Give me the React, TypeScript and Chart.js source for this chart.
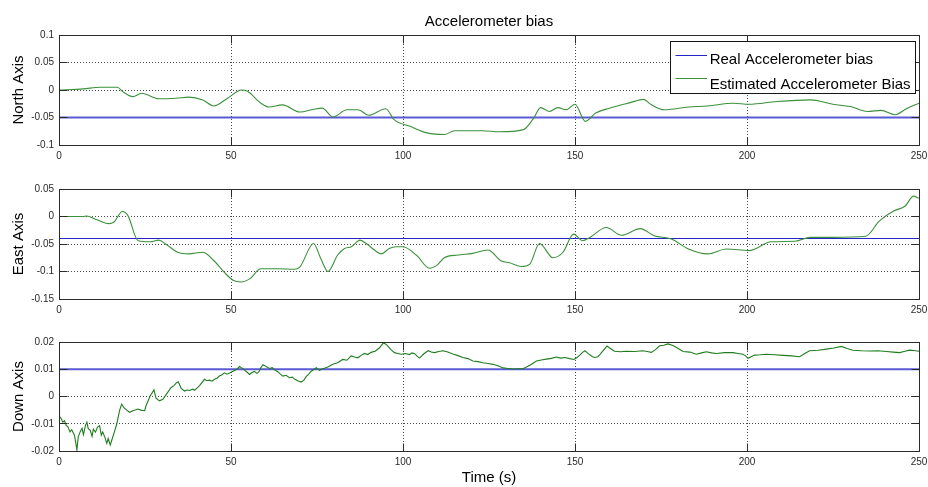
import { useEffect, useRef } from "react";
import { Chart, registerables } from "chart.js";

Chart.register(...registerables);

// ---- data ----------------------------------------------------------------
const timeTicks = [0, 50, 100, 150, 200, 250];
const northTicks = [-0.1, -0.05, 0, 0.05, 0.1];
const eastTicks = [-0.15, -0.1, -0.05, 0, 0.05];
const downTicks = [-0.02, -0.01, 0, 0.01, 0.02];

const realLabel = "Real Accelerometer bias";
const estimateLabel = "Estimated Accelerometer Bias";

const realNorth = -0.05;
const realEast = -0.04;
const realDown = 0.01;

const northTime = [
  0, 7, 12, 17, 18.5, 21.5, 24, 29, 34, 37.7,
  41.8, 45, 49, 53, 54.7, 58.7, 61, 65, 70, 74,
  76.5, 79.7, 83.7, 87, 90, 95, 97.4, 102, 107, 112,
  115, 123, 128, 135, 138, 140, 142.6, 145, 147.4, 150,
  153, 156, 160, 166, 170, 172, 176, 183, 188.6, 196,
  200.6, 208.7, 218.4, 225, 230, 235, 239, 243, 246.6, 250,
];
const northBias = [
  0, 0.002, 0.005, 0.005, -0.003, -0.012, -0.006, -0.016, -0.015, -0.013,
  -0.018, -0.029, -0.015, 0, -0.002, -0.024, -0.031, -0.027, -0.04, -0.035,
  -0.033, -0.049, -0.036, -0.036, -0.046, -0.034, -0.054, -0.066, -0.078, -0.081,
  -0.074, -0.074, -0.076, -0.072, -0.051, -0.032, -0.039, -0.032, -0.036, -0.026,
  -0.057, -0.042, -0.033, -0.023, -0.017, -0.026, -0.036, -0.031, -0.029, -0.024,
  -0.026, -0.021, -0.018, -0.026, -0.03, -0.039, -0.037, -0.045, -0.033, -0.024,
];

const eastTime = [
  0, 7, 8, 11, 14.4, 16, 18.4, 20, 23, 26.5,
  29, 31, 34.5, 37.7, 41.8, 45, 48, 50.6, 53, 55.5,
  58.7, 63.5, 68.4, 70, 74, 76, 78.2, 81, 83, 85,
  87.5, 89.5, 91.5, 93.7, 96, 98, 100, 104, 107.7, 110,
  112, 116, 120.3, 124.7, 128.6, 131, 134.4, 136.8, 139.7, 143.6,
  146.5, 149.6, 152.2, 154.3, 159.1, 163.5, 169, 173, 178, 183,
  188.6, 194, 200.6, 207, 214, 218.4, 225, 234.5, 238.5, 242.6,
  246, 248.4, 250,
];
const eastBias = [
  0, 0, 0.001, -0.006, -0.013, -0.01, 0.009, 0.002, -0.044, -0.046,
  -0.043, -0.05, -0.065, -0.068, -0.065, -0.08, -0.101, -0.116, -0.119, -0.113,
  -0.095, -0.095, -0.096, -0.092, -0.049, -0.075, -0.1, -0.07, -0.058, -0.055,
  -0.043, -0.05, -0.06, -0.068, -0.058, -0.055, -0.055, -0.071, -0.094, -0.088,
  -0.075, -0.07, -0.067, -0.061, -0.081, -0.084, -0.091, -0.087, -0.049, -0.075,
  -0.065, -0.032, -0.044, -0.038, -0.02, -0.034, -0.022, -0.035, -0.041, -0.059,
  -0.068, -0.059, -0.062, -0.046, -0.045, -0.038, -0.038, -0.036, -0.008, 0.01,
  0.019, 0.037, 0.033,
];

const downTime = [
  0, 0.15, 0.6, 1.1, 1.6, 2.1, 2.6, 3.2, 3.7, 4.5,
  5.2, 5.6, 6.2, 6.7, 7.1, 7.7, 8.1, 8.5, 9.1, 9.6,
  10.0, 10.6, 11.2, 11.8, 12.3, 12.7, 13.3, 13.9, 14.3, 14.9,
  15.5, 16.1, 16.8, 17.6, 18.2, 19.0, 19.7, 20.5, 21.5, 22.3,
  22.9, 23.8, 24.9, 25.3, 26.5, 27.6, 28.2, 29.2, 30.2, 31.2,
  32.6, 33.4, 34.1, 34.7, 35.5, 36.5, 37.2, 38.0, 38.8, 39.4,
  40.1, 40.8, 41.6, 42.3, 43.0, 43.7, 44.5, 45.2, 46.0, 46.6,
  47.3, 48.1, 48.8, 49.6, 50.3, 51.0, 51.8, 52.5, 53.2, 54.0,
  54.7, 55.4, 56.1, 56.8, 57.5, 58.1, 58.7, 59.3, 60.2, 61.2,
  62.0, 62.7, 63.6, 64.3, 65.1, 66.0, 67.0, 67.8, 68.5, 69.4,
  70.4, 71.2, 71.9, 72.6, 73.3, 74.0, 74.8, 75.7, 76.5, 77.2,
  78.3, 79.6, 81.0, 82.5, 83.7, 84.9, 85.9, 86.9, 87.8, 88.8,
  89.8, 90.7, 91.9, 93.1, 94.3, 95.0, 95.6, 96.5, 97.5, 98.5,
  99.5, 100.7, 101.9, 102.6, 103.4, 104.1, 104.8, 106.0, 107.3, 108.2,
  109.2, 110.4, 111.6, 113.0, 114.5, 116.0, 117.4, 118.9, 120.3, 121.8,
  123.2, 124.7, 126.2, 127.6, 129.1, 130.5, 132.0, 133.4, 134.9, 135.9,
  136.9, 137.8, 138.8, 140.2, 141.7, 143.1, 144.6, 145.8, 147.1, 148.4,
  149.7, 150.5, 151.4, 152.2, 152.9, 153.6, 154.4, 155.1, 155.8, 156.6,
  157.3, 158.3, 159.3, 160.4, 161.5, 163.2, 164.9, 167.3, 169.7, 171.0,
  172.2, 173.4, 174.6, 175.8, 177.0, 178.5, 180.0, 181.4, 183.4, 185.3,
  186.8, 188.2, 189.7, 191.1, 193.5, 195.9, 197.4, 198.8, 199.6, 200.3,
  201.2, 202.2, 203.9, 205.6, 208.0, 210.5, 212.9, 215.3, 216.8, 218.2,
  220.7, 223.1, 225.3, 227.4, 229.1, 230.8, 233.3, 235.7, 238.1, 240.5,
  242.5, 244.4, 245.9, 247.3, 248.5, 250,
];
const downBias = [
  0.002, -0.0073, -0.008, -0.0094, -0.0089, -0.0106, -0.0111, -0.013, -0.0122, -0.0142,
  -0.0196, -0.0148, -0.0128, -0.0117, -0.014, -0.0106, -0.0094, -0.0118, -0.0124, -0.0146,
  -0.012, -0.0131, -0.0112, -0.0107, -0.0142, -0.013, -0.0148, -0.0172, -0.0154, -0.0178,
  -0.0154, -0.013, -0.01, -0.0052, -0.0028, -0.0043, -0.005, -0.0058, -0.0052, -0.0049,
  -0.0046, -0.005, -0.0052, -0.0034, 0.0002, 0.0024, -0.0006, -0.0016, -0.001, 0.0008,
  0.0033, 0.004, 0.005, 0.0054, 0.003, 0.002, 0.0024, 0.0022, 0.0027, 0.0023,
  0.0031, 0.0039, 0.0052, 0.0063, 0.0058, 0.006, 0.0056, 0.0063, 0.0068, 0.0075,
  0.0079, 0.0087, 0.0082, 0.0086, 0.0091, 0.0095, 0.0101, 0.011, 0.0104, 0.0096,
  0.0089, 0.0081, 0.0088, 0.0092, 0.0085, 0.009, 0.0106, 0.0117, 0.011, 0.0103,
  0.0106, 0.0098, 0.0091, 0.0083, 0.0075, 0.0078, 0.0069, 0.0071, 0.0064, 0.0058,
  0.0053, 0.006, 0.0074, 0.0082, 0.0093, 0.0098, 0.0106, 0.0096, 0.0101, 0.0104,
  0.0109, 0.0118, 0.0124, 0.0136, 0.0133, 0.0149, 0.0145, 0.0142, 0.0151, 0.0158,
  0.0154, 0.0162, 0.0166, 0.0178, 0.0197, 0.0192, 0.0185, 0.0172, 0.0161, 0.0158,
  0.0155, 0.0158, 0.0154, 0.016, 0.0157, 0.0148, 0.0141, 0.0156, 0.0168, 0.0163,
  0.0161, 0.0165, 0.0168, 0.0163, 0.0156, 0.015, 0.0143, 0.0139, 0.013, 0.0128,
  0.0124, 0.0121, 0.0118, 0.0113, 0.0105, 0.0103, 0.0101, 0.0102, 0.0102, 0.0108,
  0.0115, 0.0122, 0.013, 0.0134, 0.0137, 0.014, 0.0145, 0.0141, 0.0143, 0.0139,
  0.0136, 0.0142, 0.0152, 0.0162, 0.0168, 0.016, 0.0152, 0.0146, 0.0143, 0.0146,
  0.0155, 0.017, 0.0185, 0.0175, 0.0166, 0.0164, 0.0166, 0.0165, 0.0168, 0.0165,
  0.0162, 0.0172, 0.0186, 0.0188, 0.0193, 0.0187, 0.0176, 0.0165, 0.0163, 0.0155,
  0.016, 0.0164, 0.016, 0.0158, 0.0161, 0.0161, 0.0158, 0.0155, 0.0149, 0.014,
  0.0146, 0.0152, 0.0153, 0.0155, 0.0153, 0.0151, 0.0149, 0.0146, 0.0158, 0.0168,
  0.017, 0.0174, 0.0178, 0.0184, 0.0176, 0.017, 0.0168, 0.0167, 0.0168, 0.0165,
  0.0163, 0.0161, 0.0166, 0.017, 0.0169, 0.0166,
];

// ---- styling -------------------------------------------------------------
const FONT = '"Liberation Sans", Arial, Helvetica, sans-serif';
const AXIS_COLOR = "#2b2b2b";
const GRID_COLOR = "#4a4a4a";
const TICK_LEN = 8;

type PanelSpec = {
  axisLabel: string;
  ticks: number[];
  real: number;
  time: number[];
  estimate: number[];
  smooth: boolean;
  realColor: string;
  realWidth: number;
  estColor: string;
  top: number;
  height: number;
  padTop: number;
  axisHeight: number;
  title?: string;
  xTitle?: string;
  legend?: boolean;
};

const panels: PanelSpec[] = [
  {
    axisLabel: "North Axis",
    ticks: northTicks,
    real: realNorth,
    time: northTime,
    estimate: northBias,
    smooth: true,
    realColor: "#5a5ad6",
    realWidth: 2,
    estColor: "#3a913a",
    top: 0,
    height: 170,
    padTop: 0,
    axisHeight: 25,
    title: "Accelerometer bias",
    legend: true,
  },
  {
    axisLabel: "East Axis",
    ticks: eastTicks,
    real: realEast,
    time: eastTime,
    estimate: eastBias,
    smooth: true,
    realColor: "#2424c8",
    realWidth: 1.2,
    estColor: "#3a913a",
    top: 170,
    height: 154,
    padTop: 19,
    axisHeight: 25,
  },
  {
    axisLabel: "Down Axis",
    ticks: downTicks,
    real: realDown,
    time: downTime,
    estimate: downBias,
    smooth: false,
    realColor: "#5a5ad6",
    realWidth: 2,
    estColor: "#1f7d1f",
    top: 324,
    height: 163,
    padTop: 18,
    axisHeight: 36,
    xTitle: "Time (s)",
  },
];

const alignPx = (p: number) => Math.round(p - 0.5) + 0.5;
const fmtTick = (v: number | string) => String(Number(Number(v).toFixed(4)));

// Axes box with inward tick marks on all four sides
const frameBox = {
  id: "frameBox",
  afterDatasetsDraw(chart: any) {
    const { ctx, chartArea, scales } = chart;
    const L = alignPx(chartArea.left);
    const R = alignPx(chartArea.right);
    const T = alignPx(chartArea.top);
    const B = alignPx(chartArea.bottom);
    ctx.save();
    ctx.setLineDash([]);
    ctx.strokeStyle = AXIS_COLOR;
    ctx.lineWidth = 1;
    ctx.beginPath();
    scales.x.ticks.forEach((t: any) => {
      const px = alignPx(scales.x.getPixelForValue(t.value));
      if (px <= L + 1 || px >= R - 1) return;
      ctx.moveTo(px, B);
      ctx.lineTo(px, B - TICK_LEN);
      ctx.moveTo(px, T);
      ctx.lineTo(px, T + TICK_LEN);
    });
    scales.y.ticks.forEach((t: any) => {
      const py = alignPx(scales.y.getPixelForValue(t.value));
      if (py <= T + 1 || py >= B - 1) return;
      ctx.moveTo(L, py);
      ctx.lineTo(L + TICK_LEN, py);
      ctx.moveTo(R, py);
      ctx.lineTo(R - TICK_LEN, py);
    });
    ctx.stroke();
    ctx.strokeRect(L, T, R - L, B - T);
    ctx.restore();
  },
};

// Boxed legend in the upper-right corner of the axes
const boxedLegend = {
  id: "boxedLegend",
  afterDraw(chart: any) {
    const { ctx, chartArea } = chart;
    const items = chart.data.datasets;
    ctx.save();
    ctx.font = `15px ${FONT}`;
    const textW = Math.max(...items.map((d: any) => ctx.measureText(d.label).width));
    const w = Math.round(5 + 31.5 + 2.7 + textW + 5);
    const h = 52;
    const x = Math.round(chartArea.right - 4 - w) + 0.5;
    const y = Math.round(chartArea.top + 5.5) + 0.5;
    ctx.fillStyle = "#ffffff";
    ctx.fillRect(x, y, w, h);
    ctx.strokeStyle = "#151515";
    ctx.lineWidth = 1;
    ctx.setLineDash([]);
    ctx.strokeRect(x, y, w, h);
    items.forEach((d: any, i: number) => {
      const ly = Math.round(y + 13 + i * 23.3) + 0.5;
      ctx.strokeStyle = i === 0 ? "#2424c8" : d.borderColor;
      ctx.lineWidth = 1;
      ctx.beginPath();
      ctx.moveTo(x + 5, ly);
      ctx.lineTo(x + 36.5, ly);
      ctx.stroke();
      ctx.fillStyle = "#000000";
      ctx.textBaseline = "alphabetic";
      ctx.textAlign = "left";
      ctx.fillText(d.label, x + 39.2, y + 22.6 + i * 24.4);
    });
    ctx.restore();
  },
};

function buildConfig(spec: PanelSpec): any {
  const tickFont = { family: FONT, size: 10 };
  const labelFont = { family: FONT, size: 15, weight: "normal" as const };
  return {
    type: "line",
    data: {
      datasets: [
        {
          label: realLabel,
          data: [
            { x: 0, y: spec.real },
            { x: 250, y: spec.real },
          ],
          borderColor: spec.realColor,
          borderWidth: spec.realWidth,
          pointRadius: 0,
          order: 2,
        },
        {
          label: estimateLabel,
          data: spec.time.map((t, i) => ({ x: t, y: spec.estimate[i] })),
          borderColor: spec.estColor,
          borderWidth: 1.1,
          pointRadius: 0,
          order: 1,
          cubicInterpolationMode: spec.smooth ? "monotone" : "default",
        },
      ],
    },
    options: {
      animation: false,
      responsive: false,
      maintainAspectRatio: false,
      events: [],
      layout: { padding: { top: spec.padTop, right: 9, bottom: 0, left: 0 } },
      plugins: {
        legend: { display: false },
        tooltip: { enabled: false },
        title: {
          display: !!spec.title,
          text: spec.title || "",
          fullSize: false,
          font: labelFont,
          color: "#000000",
          padding: { top: 12.5, bottom: 4.5 },
        },
      },
      scales: {
        x: {
          type: "linear",
          min: 0,
          max: 250,
          afterBuildTicks: (scale: any) => {
            scale.ticks = timeTicks.map((value) => ({ value }));
          },
          afterFit: (scale: any) => {
            scale.height = spec.axisHeight;
            scale.paddingLeft = 0;
            scale.paddingRight = 0;
          },
          grid: { color: GRID_COLOR, lineWidth: 1, drawTicks: false },
          border: { display: false, dash: [1, 2] },
          ticks: {
            padding: 5,
            color: "#2a2a2a",
            font: tickFont,
            maxRotation: 0,
            autoSkip: false,
            callback: fmtTick,
          },
          title: {
            display: !!spec.xTitle,
            text: spec.xTitle || "",
            font: labelFont,
            color: "#000000",
            padding: { top: 0, bottom: 0 },
          },
        },
        y: {
          type: "linear",
          min: spec.ticks[0],
          max: spec.ticks[spec.ticks.length - 1],
          afterBuildTicks: (scale: any) => {
            scale.ticks = spec.ticks.map((value) => ({ value }));
          },
          afterFit: (scale: any) => {
            scale.width = 59;
            scale.paddingTop = 0;
            scale.paddingBottom = 0;
          },
          grid: { color: GRID_COLOR, lineWidth: 1, drawTicks: false },
          border: { display: false, dash: [1, 2] },
          ticks: {
            padding: 5,
            color: "#2a2a2a",
            font: tickFont,
            autoSkip: false,
            callback: fmtTick,
          },
          title: {
            display: true,
            text: spec.axisLabel,
            font: labelFont,
            color: "#000000",
            padding: { top: 10, bottom: 0 },
          },
        },
      },
    },
    plugins: spec.legend ? [frameBox, boxedLegend] : [frameBox],
  };
}

function Panel({ spec }: { spec: PanelSpec }) {
  const ref = useRef<HTMLCanvasElement>(null);
  useEffect(() => {
    if (!ref.current) return;
    const chart = new Chart(ref.current, buildConfig(spec));
    return () => chart.destroy();
  }, [spec]);
  return (
    <canvas
      ref={ref}
      width={928}
      height={spec.height}
      style={{ position: "absolute", left: 0, top: spec.top, width: 928, height: spec.height }}
    />
  );
}

export default function App() {
  return (
    <div
      style={{
        position: "absolute",
        left: 0,
        top: 0,
        width: 928,
        height: 487,
        background: "#ffffff",
        overflow: "hidden",
      }}
    >
      {panels.map((p) => (
        <Panel key={p.axisLabel} spec={p} />
      ))}
    </div>
  );
}
